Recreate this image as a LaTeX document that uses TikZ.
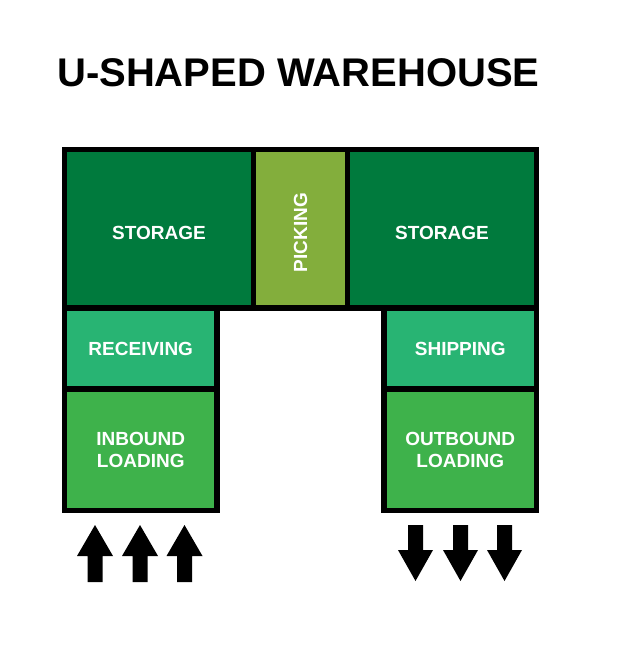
\documentclass[tikz,border=0pt]{standalone}
\usepackage{fontspec}
\setmainfont{Liberation Sans}
\usetikzlibrary{positioning}
\definecolor{storagegreen}{RGB}{0,122,61}
\definecolor{pickinggreen}{RGB}{131,174,60}
\definecolor{dockgreen}{RGB}{40,180,115}
\definecolor{loadgreen}{RGB}{62,178,75}

\begin{document}
\begin{tikzpicture}[x=1pt,y=-1pt,
  zone/.style={rectangle, draw=black, line width=5.5pt, text=white,
               align=center, inner sep=0pt, outer sep=0pt,
               font=\bfseries\fontsize{19}{22.5}\selectfont},
  storage/.style={zone, fill=storagegreen, minimum width=189pt, minimum height=158.5pt,
                  text height=22pt, text depth=0pt},
  dock/.style={zone, fill=dockgreen, minimum width=152.5pt, minimum height=81pt},
  loading/.style={zone, fill=loadgreen, minimum width=152.5pt, minimum height=121.5pt}
]
  \useasboundingbox (0,0) rectangle (631,652);
  \fill[white] (0,0) rectangle (631,652);

  \node[anchor=base west, inner sep=0pt, font=\bfseries\fontsize{40}{48}\selectfont]
    (title) at (57,87) {U-SHAPED WAREHOUSE};

  % top row
  \node[storage] (storL) at (159,228.75) {STORAGE};
  \node[zone, fill=pickinggreen, minimum width=94pt, minimum height=158.5pt,
        text height=87pt, text depth=0pt,
        right=0pt of storL] (pick) {\rotatebox{90}{PICKING}};
  \node[storage, right=0pt of pick] (storR) {STORAGE};

  % left leg
  \node[dock, anchor=north west] (recv) at (storL.south west) {RECEIVING};
  \node[loading, below=0pt of recv] (inb) {INBOUND\\LOADING};

  % right leg
  \node[dock, anchor=north east] (ship) at (storR.south east) {SHIPPING};
  \node[loading, below=0pt of ship] (outb) {OUTBOUND\\LOADING};

  % inbound / outbound arrows
  \foreach \ax in {95,140,184.5}
    \fill (\ax-7.5,582) -- (\ax-7.5,556) -- (\ax-18,556) -- (\ax,525)
          -- (\ax+18,556) -- (\ax+7.5,556) -- (\ax+7.5,582) -- cycle;
  \foreach \ax in {415.5,460.5,504.5}
    \fill (\ax-7.5,525) -- (\ax-7.5,550) -- (\ax-17.5,550) -- (\ax,581)
          -- (\ax+17.5,550) -- (\ax+7.5,550) -- (\ax+7.5,525) -- cycle;
\end{tikzpicture}
\end{document}
